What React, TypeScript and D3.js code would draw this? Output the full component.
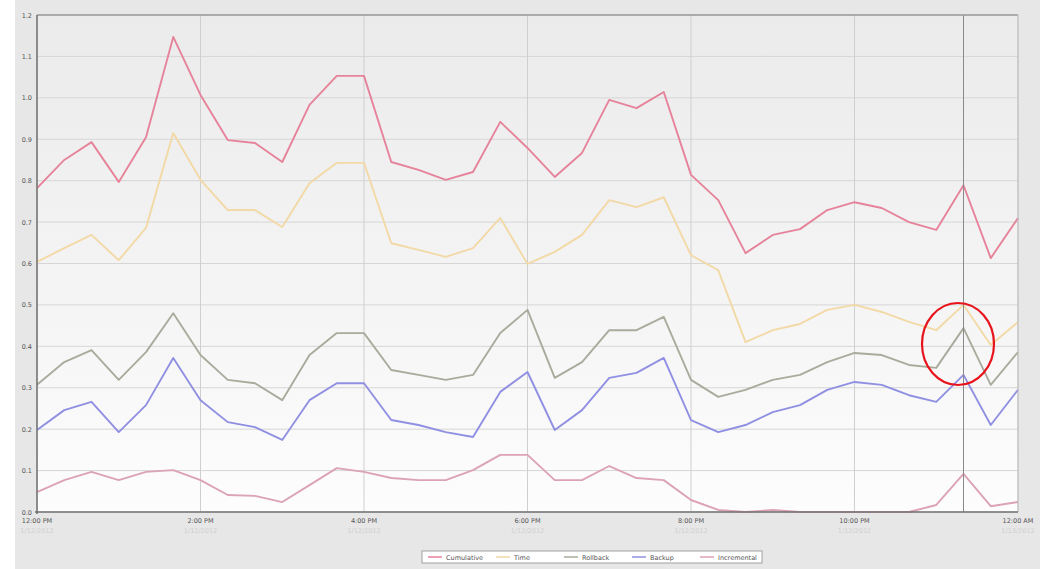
import React from "react";
import * as d3 from "d3";

const W = 1049;
const H = 569;

const timeLabels = ["12:00 PM", "2:00 PM", "4:00 PM", "6:00 PM", "8:00 PM", "10:00 PM", "12:00 AM"];
const dateLabels = ["1/12/2012", "1/12/2012", "1/12/2012", "1/12/2012", "1/12/2012", "1/12/2012", "1/13/2012"];
const yTicks = [0, 0.1, 0.2, 0.3, 0.4, 0.5, 0.6, 0.7, 0.8, 0.9, 1.0, 1.1, 1.2];

const cumulative = [0.782, 0.85, 0.893, 0.797, 0.905, 1.147, 1.007, 0.898, 0.891, 0.845, 0.983, 1.053, 1.053, 0.845, 0.826, 0.802, 0.821, 0.942, 0.879, 0.809, 0.867, 0.995, 0.975, 1.014, 0.814, 0.753, 0.625, 0.669, 0.683, 0.729, 0.748, 0.734, 0.7, 0.681, 0.789, 0.613, 0.71];
const timeSeries = [0.604, 0.637, 0.669, 0.608, 0.686, 0.915, 0.802, 0.729, 0.729, 0.688, 0.794, 0.843, 0.843, 0.649, 0.633, 0.616, 0.637, 0.71, 0.599, 0.628, 0.669, 0.753, 0.736, 0.76, 0.62, 0.584, 0.41, 0.439, 0.454, 0.488, 0.5, 0.483, 0.459, 0.439, 0.5, 0.403, 0.459];
const rollback = [0.307, 0.362, 0.391, 0.319, 0.386, 0.48, 0.379, 0.319, 0.311, 0.27, 0.379, 0.432, 0.432, 0.343, 0.331, 0.319, 0.331, 0.432, 0.488, 0.324, 0.362, 0.439, 0.439, 0.471, 0.319, 0.278, 0.295, 0.319, 0.331, 0.362, 0.384, 0.379, 0.355, 0.348, 0.444, 0.307, 0.386];
const backup = [0.198, 0.246, 0.266, 0.193, 0.258, 0.372, 0.27, 0.217, 0.205, 0.174, 0.27, 0.311, 0.311, 0.222, 0.21, 0.193, 0.181, 0.29, 0.338, 0.198, 0.246, 0.324, 0.336, 0.372, 0.222, 0.193, 0.21, 0.241, 0.258, 0.295, 0.314, 0.307, 0.282, 0.266, 0.331, 0.21, 0.295];
const incremental = [0.048, 0.077, 0.097, 0.077, 0.097, 0.101, 0.077, 0.041, 0.039, 0.024, 0.065, 0.106, 0.097, 0.082, 0.077, 0.077, 0.101, 0.138, 0.138, 0.077, 0.077, 0.111, 0.082, 0.077, 0.029, 0.005, 0, 0.005, 0, 0, 0, 0, 0, 0.017, 0.092, 0.014, 0.024];

const seriesNames = ["Cumulative", "Time", "Rollback", "Backup", "Incremental"];
const seriesData = [cumulative, timeSeries, rollback, backup, incremental];
const seriesColors = ["#e6839b", "#f2d9a6", "#a9ab9c", "#9090e2", "#dba3b3"];

const cursorIndex = 34;

export default function App() {
  const left = 37, right = 1018, top = 15, bottom = 512;
  const n = cumulative.length;
  const x = d3.scaleLinear().domain([0, n - 1]).range([left, right]);
  const y = d3.scaleLinear().domain([0, 1.2]).range([bottom, top]);
  const line = d3.line<number>().x((_, i) => x(i)).y((d) => y(d));
  const tickIdx = timeLabels.map((_, i) => i * 6);

  const legendX = 422, legendY = 551, legendW = 340, legendH = 12;
  const itemW = legendW / seriesNames.length;

  return (
    <svg width={W} height={H} style={{ position: "absolute", left: 0, top: 0, fontFamily: "'DejaVu Sans', sans-serif" }}>
      <defs>
        <linearGradient id="plotbg" x1="0" y1="0" x2="0" y2="1">
          <stop offset="0" stopColor="#ebebeb" />
          <stop offset="0.55" stopColor="#f4f4f4" />
          <stop offset="1" stopColor="#fdfdfd" />
        </linearGradient>
      </defs>
      <rect x={0} y={0} width={W} height={H} fill="#ffffff" />
      <rect x={15} y={0} width={1025} height={H} fill="#e7e7e7" />
      <rect x={left} y={top} width={right - left} height={bottom - top} fill="url(#plotbg)" />
      {yTicks.map((t) => (
        <line key={"g" + t} x1={left} x2={right} y1={y(t)} y2={y(t)} stroke="#d6d6d6" strokeWidth={1} />
      ))}
      {tickIdx.map((i) => (
        <line key={"v" + i} x1={x(i)} x2={x(i)} y1={top} y2={bottom} stroke="#cfcfcf" strokeWidth={1} />
      ))}
      {seriesData.map((s, k) => (
        <path key={seriesNames[k]} d={line(s) || ""} fill="none" stroke={seriesColors[k]} strokeWidth={1.9} strokeLinejoin="round" />
      ))}
      <line x1={x(cursorIndex)} x2={x(cursorIndex)} y1={top} y2={bottom} stroke="#8a8a8a" strokeWidth={1} />
      <line x1={left} x2={right} y1={top} y2={top} stroke="#9a9a9a" strokeWidth={1.5} />
      <line x1={right} x2={right} y1={top} y2={bottom} stroke="#bdbdbd" strokeWidth={1} />
      <line x1={left} x2={left} y1={top} y2={bottom + 2} stroke="#707070" strokeWidth={1.5} />
      <line x1={left - 2} x2={right} y1={bottom} y2={bottom} stroke="#707070" strokeWidth={1.5} />
      {yTicks.map((t) => (
        <text key={"yl" + t} x={left - 5} y={y(t) + 2.5} fontSize={6.5} textAnchor="end" fill="#555">
          {t.toFixed(1)}
        </text>
      ))}
      {tickIdx.map((i, k) => (
        <g key={"xl" + i}>
          <text x={x(i)} y={523} fontSize={6.5} textAnchor="middle" fill="#555">{timeLabels[k]}</text>
          <text x={x(i)} y={533} fontSize={6.5} textAnchor="middle" fill="#cfcfcf">{dateLabels[k]}</text>
        </g>
      ))}
      <rect x={legendX} y={legendY} width={legendW} height={legendH} fill="#ffffff" stroke="#a0a0a0" strokeWidth={1} />
      {seriesNames.map((nm, k) => (
        <g key={"lg" + nm}>
          <line x1={legendX + k * itemW + 6} x2={legendX + k * itemW + 20} y1={legendY + 6} y2={legendY + 6} stroke={seriesColors[k]} strokeWidth={1.5} />
          <text x={legendX + k * itemW + 24} y={legendY + 8.5} fontSize={6.5} fill="#555">{nm}</text>
        </g>
      ))}
      <ellipse cx={958} cy={344} rx={36} ry={41} fill="none" stroke="#e8141c" strokeWidth={2.2} />
    </svg>
  );
}
